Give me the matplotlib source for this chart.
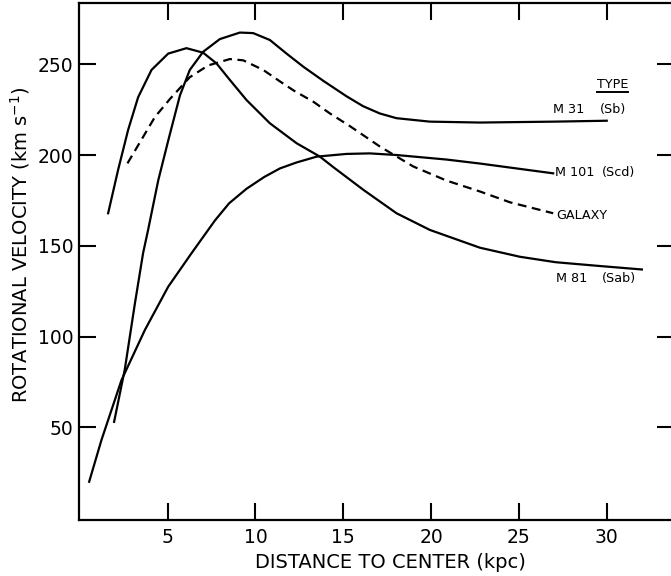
import matplotlib.pyplot as plt
from matplotlib.lines import Line2D

plt.rcParams['font.family'] = ['DejaVu Sans']
plt.rcParams['mathtext.fontset'] = 'dejavusans'

# rotation curves (kpc, km/s)
m31_r = [1.95, 2.56, 3.13, 3.6, 3.89, 4.46, 5.03, 5.7, 6.26, 7.02, 7.97,
         9.11, 9.87, 10.82, 11.77, 12.72, 13.86, 15.18, 16.13, 17.08, 18.03,
         19.93, 22.78, 27.0, 30.0]
m31_v = [53, 82, 118, 146, 159, 186, 208, 233, 247, 257, 264,
         267.6, 267.3, 263.5, 256, 248.8, 241, 232.5, 227, 223, 220.4,
         218.5, 218, 218.5, 219]

m81_r = [1.61, 2.18, 2.75, 3.32, 4.08, 5.03, 6.07, 7.02, 7.78, 8.54, 9.49,
         10.82, 12.34, 13.67, 14.42, 16.13, 18.03, 19.93, 22.78, 25.06, 27.1,
         29.5, 32.0]
m81_v = [168, 192, 214, 232, 247, 256, 259, 256.5, 250.6, 241.5, 230.4,
         217.6, 206.6, 199.2, 193.5, 181, 168, 158.8, 149, 144, 141,
         139, 137]

m101_r = [0.53, 1.23, 2.37, 3.7, 5.03, 6.36, 7.69, 8.5, 9.49, 10.5, 11.39,
          12.34, 13.48, 15.18, 16.5, 18.03, 20.88, 22.78, 26.95]
m101_v = [20, 43, 76, 103.6, 127.5, 146, 164, 173.5, 181.5, 188, 192.7,
          196, 199.2, 200.7, 201, 200.1, 197.6, 195.4, 190]

gal_r = [2.71, 4.27, 5.13, 5.79, 6.26, 7.31, 8.54, 9.3, 10.44, 11.39, 12.2,
         13.29, 14.24, 15.38, 17.08, 18.98, 20.88, 22.78, 24.5, 26.95]
gal_v = [195.5, 221, 231, 238, 243, 249.5, 253, 252.3, 247, 240.7, 235.5,
         229.5, 223, 216, 204.8, 193.8, 186, 180, 174, 168]

xticks = [5, 10, 15, 20, 25, 30]
yticks = [50, 100, 150, 200, 250]

fig = plt.figure(figsize=(6.71, 5.76), dpi=100)
ax = fig.add_axes([0.1177, 0.0972, 0.8873, 0.8976])

lw = 1.6
ax.plot(m31_r, m31_v, color='black', lw=lw, solid_joinstyle='round')
ax.plot(m81_r, m81_v, color='black', lw=lw, solid_joinstyle='round')
ax.plot(m101_r, m101_v, color='black', lw=lw, solid_joinstyle='round')
ax.plot(gal_r, gal_v, color='black', lw=lw, dashes=(4, 2.5))

ax.set_xlim(-0.05, 33.85)
ax.set_ylim(-1.1, 283.9)
ax.set_xticks(xticks)
ax.set_yticks(yticks)
ax.tick_params(direction='in', length=12, width=1.5, labelsize=13.5,
               top=True, right=True, colors='black')
ax.tick_params(axis='x', pad=6)
ax.tick_params(axis='y', pad=4)
for s in ax.spines.values():
    s.set_linewidth(1.6)
ax.spines['right'].set_visible(False)

ax.set_xlabel('DISTANCE TO CENTER (kpc)', fontsize=14)
ax.xaxis.set_label_coords(0.523, -0.064)
ax.set_ylabel(r'ROTATIONAL VELOCITY (km s$^{-1}$)', fontsize=14)
ax.yaxis.set_label_coords(-0.079, 0.532)

fs = 9.2
t_type = ax.text(29.44, 239.2, 'TYPE', fontsize=fs, va='center')
ax.text(26.94, 225, 'M 31', fontsize=fs, va='center')
ax.text(29.6, 225, '(Sb)', fontsize=fs, va='center')
ax.text(27.05, 190.7, 'M 101', fontsize=fs, va='center')
ax.text(29.73, 190.7, '(Scd)', fontsize=fs, va='center')
ax.text(27.1, 166.5, 'GALAXY', fontsize=fs, va='center')
ax.text(27.1, 132.3, 'M 81', fontsize=fs, va='center')
ax.text(29.73, 132.3, '(Sab)', fontsize=fs, va='center')

# underline the TYPE heading
fig.canvas.draw()
bb = t_type.get_window_extent()
fig.add_artist(Line2D([bb.x0, bb.x1], [bb.y0 - 1, bb.y0 - 1], lw=1.4,
                      color='black', transform=None))

fig.savefig('out.png', dpi=100)
